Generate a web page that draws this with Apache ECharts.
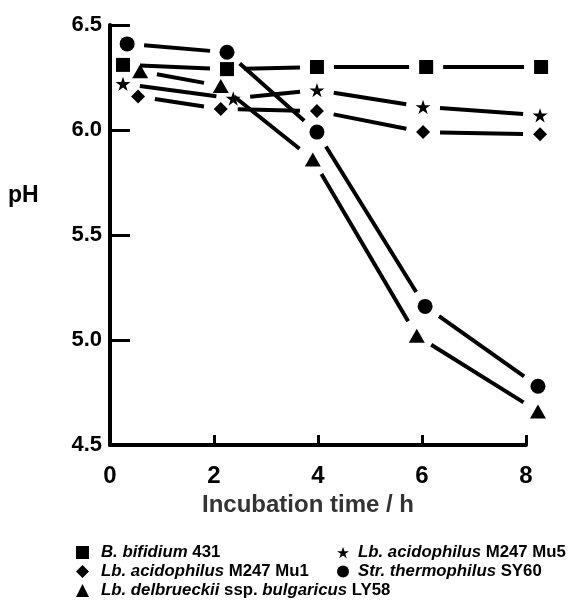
<!DOCTYPE html>
<html><head><meta charset="utf-8">
<script src="https://cdn.jsdelivr.net/npm/echarts@6/dist/echarts.min.js"></script>
<style>html,body{margin:0;padding:0;background:#fff}#c{width:583px;height:601px}</style>
</head><body><div id="c"></div>
<script>
// ---- data ----
const seriesNames = [
  'B. bifidium 431',
  'Lb. acidophilus M247 Mu1',
  'Lb. delbrueckii ssp. bulgaricus LY58',
  'Lb. acidophilus M247 Mu5',
  'Str. thermophilus SY60'
];
const legendLabels = [
  '{i|B. bifidium} 431',
  '{i|Lb. acidophilus} M247 Mu1',
  '{i|Lb. delbrueckii} ssp. {i|bulgaricus} LY58',
  '{i|Lb. acidophilus} M247 Mu5',
  '{i|Str. thermophilus} SY60'
];
const bifidiumTime = [0.25, 2.25, 3.98, 6.08, 8.29];
const bifidiumPH   = [6.31, 6.29, 6.30, 6.30, 6.30];
const mu1Time = [0.54, 2.13, 3.98, 6.02, 8.27];
const mu1PH   = [6.16, 6.10, 6.09, 5.99, 5.98];
const ly58Time = [0.58, 2.13, 3.90, 5.90, 8.23];
const ly58PH   = [6.28, 6.21, 5.86, 5.02, 4.66];
const mu5Time = [0.25, 2.37, 3.98, 6.02, 8.27];
const mu5PH   = [6.22, 6.15, 6.19, 6.11, 6.07];
const sy60Time = [0.33, 2.25, 3.98, 6.06, 8.23];
const sy60PH   = [6.41, 6.37, 5.99, 5.16, 4.78];
const xTickLabels = ['0', '2', '4', '6', '8'];
const yTickLabels = ['4.5', '5.0', '5.5', '6.0', '6.5'];

// ---- styles ----
const STAR = 'path://M50,0 L61.2,34.5 L97.6,34.5 L68.2,55.9 L79.4,90.5 L50,69.1 L20.6,90.5 L31.8,55.9 L2.4,34.5 L38.8,34.5 Z';
const symbols = ['rect', 'diamond', 'triangle', STAR, 'circle'];
const symbolSizes = [14, 14, [16, 14], 15, 15];
const FONT = '"Liberation Sans", Arial, Helvetica, sans-serif';

const allTimes = [bifidiumTime, mu1Time, ly58Time, mu5Time, sy60Time];
const allPH = [bifidiumPH, mu1PH, ly58PH, mu5PH, sy60PH];

function segRender(params, api) {
  const a = api.coord([api.value(0), api.value(1)]);
  const b = api.coord([api.value(2), api.value(3)]);
  const dx = b[0] - a[0], dy = b[1] - a[1];
  const L = Math.hypot(dx, dy);
  const ux = dx / L, uy = dy / L;
  const g = 17;
  return {
    type: 'line',
    shape: { x1: a[0] + ux * g, y1: a[1] + uy * g, x2: b[0] - ux * g, y2: b[1] - uy * g },
    style: { stroke: '#000', lineWidth: 4 }
  };
}

const series = [];
seriesNames.forEach((name, k) => {
  const t = allTimes[k], p = allPH[k];
  const segs = [];
  for (let i = 0; i < t.length - 1; i++) segs.push([t[i], p[i], t[i + 1], p[i + 1]]);
  series.push({
    type: 'custom', renderItem: segRender, data: segs, clip: false,
    encode: { x: [0, 2], y: [1, 3] }, silent: true, z: 2
  });
});
seriesNames.forEach((name, k) => {
  series.push({
    name: name, type: 'scatter', clip: false,
    data: allTimes[k].map((x, i) => [x, allPH[k][i]]),
    symbol: symbols[k], symbolSize: symbolSizes[k], symbolKeepAspect: true,
    itemStyle: { color: '#000', opacity: 1 },
    z: 3, silent: true
  });
});

function legendText(padLeft) {
  return {
    fontFamily: FONT, fontSize: 16.8, fontWeight: 'bold', color: '#000', lineHeight: 19,
    padding: [0, 0, 0, padLeft],
    rich: { i: { fontFamily: FONT, fontSize: 16.8, fontWeight: 'bold', fontStyle: 'italic', color: '#000', lineHeight: 19 } }
  };
}
const fmt = n => legendLabels[seriesNames.indexOf(n)];

const option = {
  animation: false,
  backgroundColor: '#fff',
  grid: { left: 110, right: 57, top: 25, bottom: 156, containLabel: false },
  xAxis: {
    type: 'value', min: 0, max: 8, interval: 2,
    name: 'Incubation time / h', nameLocation: 'middle', nameGap: 47,
    nameTextStyle: { fontFamily: FONT, fontSize: 24, fontWeight: 'bold', color: '#333', padding: [0, 20, 0, 0] },
    axisLine: { show: true, onZero: false, lineStyle: { color: '#000', width: 4 } },
    axisTick: { show: true, inside: true, length: 10, lineStyle: { color: '#000', width: 3 } },
    axisLabel: { margin: 19, fontFamily: FONT, fontSize: 24, fontWeight: 'bold', color: '#000',
      formatter: v => xTickLabels[Math.round(v / 2)] },
    splitLine: { show: false }
  },
  yAxis: {
    type: 'value', min: 4.5, max: 6.5, interval: 0.5,
    axisLine: { show: true, onZero: false, lineStyle: { color: '#000', width: 4 } },
    axisTick: { show: true, inside: true, length: 20, lineStyle: { color: '#000', width: 3 } },
    axisLabel: { margin: 8, fontFamily: FONT, fontSize: 22, fontWeight: 'bold', color: '#000',
      formatter: v => yTickLabels[Math.round((v - 4.5) / 0.5)] },
    splitLine: { show: false }
  },
  legend: [
    {
      data: [seriesNames[0], seriesNames[1], seriesNames[2]],
      orient: 'vertical', left: 76, top: 543, padding: 0, itemGap: 0,
      itemWidth: 13, itemHeight: 13, selectedMode: false,
      formatter: fmt, textStyle: legendText(7)
    },
    {
      data: [seriesNames[3], seriesNames[4]],
      orient: 'vertical', left: 337, top: 543, padding: 0, itemGap: 0,
      itemWidth: 12, itemHeight: 12, selectedMode: false,
      formatter: fmt, textStyle: legendText(4)
    }
  ],
  graphic: [
    { type: 'text', left: 8, top: 184, style: { text: 'pH', font: 'bold 23px ' + FONT, fill: '#000' } }
  ],
  series: series
};

const chart = echarts.init(document.getElementById('c'), null, { renderer: 'canvas' });
chart.setOption(option);
</script>
</body></html>
